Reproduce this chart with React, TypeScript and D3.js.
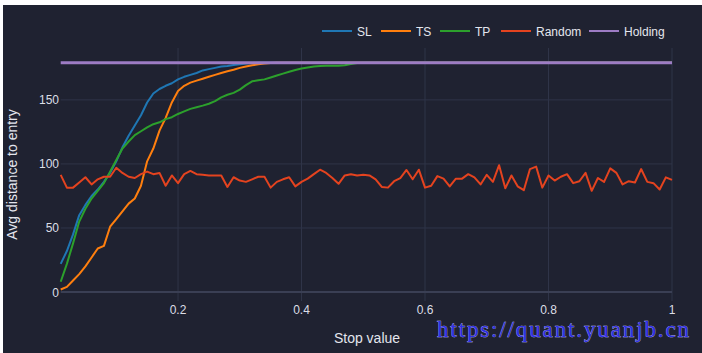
import React from "react";
import * as d3 from "d3";

// x: stop value 0.01 .. 1.00
const stopValues: number[] = d3.range(1, 101).map((i) => i / 100);

const slValues: number[] = [
  22, 32, 45, 60, 68, 75, 80, 86, 93, 102,
  113, 122, 130, 138, 148, 155, 158.5, 161, 163, 166,
  168, 169.5, 171, 173, 174, 175, 176, 176.5, 177.2, 177.8,
  178.3, 178.7, 179, 179, 179, 179, 179, 179, 179, 179,
  179, 179, 179, 179, 179, 179, 179, 179, 179, 179,
  179, 179, 179, 179, 179, 179, 179, 179, 179, 179,
  179, 179, 179, 179, 179, 179, 179, 179, 179, 179,
  179, 179, 179, 179, 179, 179, 179, 179, 179, 179,
  179, 179, 179, 179, 179, 179, 179, 179, 179, 179,
  179, 179, 179, 179, 179, 179, 179, 179, 179, 179,
];

const tsValues: number[] = [
  2, 4, 9, 14, 20, 27, 34, 36, 51, 57,
  63, 69, 73, 83, 102, 112, 126, 136, 148, 157,
  161, 163.5, 165, 166.5, 168, 169.5, 171, 172.3, 173.5, 175,
  176, 177, 177.8, 178.4, 178.8, 179, 179, 179, 179, 179,
  179, 179, 179, 179, 179, 179, 179, 179, 179, 179,
  179, 179, 179, 179, 179, 179, 179, 179, 179, 179,
  179, 179, 179, 179, 179, 179, 179, 179, 179, 179,
  179, 179, 179, 179, 179, 179, 179, 179, 179, 179,
  179, 179, 179, 179, 179, 179, 179, 179, 179, 179,
  179, 179, 179, 179, 179, 179, 179, 179, 179, 179,
];

const tpValues: number[] = [
  8, 22, 38, 55, 65, 73, 79, 85, 94, 103,
  112, 117.5, 122.5, 125.5, 128.5, 131, 132.5, 135, 136.5, 139,
  141, 143, 144.2, 145.5, 147, 149, 152, 154, 155.5, 158,
  161.5, 164.5, 165.3, 166, 167.5, 169, 170.5, 172, 173.3, 174.5,
  175.3, 176, 176.5, 176.6, 176.6, 176.7, 177, 178, 178.7, 179,
  179, 179, 179, 179, 179, 179, 179, 179, 179, 179,
  179, 179, 179, 179, 179, 179, 179, 179, 179, 179,
  179, 179, 179, 179, 179, 179, 179, 179, 179, 179,
  179, 179, 179, 179, 179, 179, 179, 179, 179, 179,
  179, 179, 179, 179, 179, 179, 179, 179, 179, 179,
];

const randomValues: number[] = [
  91.5, 81.5, 81.5, 85.5, 89.6, 84, 88, 90, 90, 97,
  93, 90, 89, 92, 94, 92, 93, 83, 91, 85,
  92, 94.5, 92, 91.5, 91, 91, 91, 82, 89.6, 87,
  86, 88, 90, 90, 81.5, 86, 88, 89.6, 82.5, 86,
  88.5, 92, 95.5, 93, 89, 84.5, 91, 92, 91, 91.5,
  91, 88, 82, 81.5, 86.5, 89, 95.3, 88, 95.5, 81.5,
  83, 90.5, 88.5, 82.5, 88.5, 88.5, 92, 89.5, 84, 91.5,
  86, 99, 81, 91, 82.5, 79.5, 96, 97.9, 81.5, 91,
  87, 90, 92, 85, 86.5, 93, 79, 89, 86, 96.5,
  93, 84, 86.5, 85.5, 96, 86, 85, 80, 89.5, 87.5,
];

const holdingValues: number[] = stopValues.map(() => 179);

const seriesNames = ["SL", "TS", "TP", "Random", "Holding"];
const seriesColors = ["#1f77b4", "#ff7f0e", "#2ca02c", "#e4431f", "#9d7cc4"];
const seriesData = [slValues, tsValues, tpValues, randomValues, holdingValues];

const xTicks = [0.2, 0.4, 0.6, 0.8, 1];
const xTickLabels = ["0.2", "0.4", "0.6", "0.8", "1"];
const yTicks = [0, 50, 100, 150];
const yTickLabels = ["0", "50", "100", "150"];

const W = 702;
const H = 353;
const plotLeft = 60.7;
const plotRight = 672;
const plotTop = 48;
const plotBottom = 301;

const FONT = "'Liberation Sans', Arial, sans-serif";

export default function App() {
  const x = d3.scaleLinear().domain([0.01, 1]).range([plotLeft, plotRight]);
  const y = d3.scaleLinear().domain([-7, 190.5]).range([plotBottom, plotTop]);

  const line = d3
    .line<number>()
    .x((_, i) => x(stopValues[i]))
    .y((d) => y(d));

  // legend layout (label widths estimated for 12px Arial-like font)
  const labelWidths = [16, 16, 18, 45, 41];
  const legendStarts: number[] = [];
  let cur = 317;
  labelWidths.forEach((w) => {
    legendStarts.push(cur);
    cur += 40 + w + 3;
  });

  return (
    <svg
      width={W}
      height={H}
      style={{ position: "absolute", left: 0, top: 0, display: "block" }}
    >
      <rect x={0} y={0} width={W} height={H} fill="#ffffff" />
      <rect x={3} y={5} width={W - 3} height={H - 5} fill="#1f2231" />

      {/* grid */}
      {xTicks.map((t) => (
        <line
          key={"gx" + t}
          x1={x(t)}
          x2={x(t)}
          y1={plotTop}
          y2={plotBottom}
          stroke="#2f3448"
          strokeWidth={1}
        />
      ))}
      {yTicks.map((t) => (
        <line
          key={"gy" + t}
          x1={plotLeft}
          x2={plotRight}
          y1={y(t)}
          y2={y(t)}
          stroke={t === 0 ? "#3a3f54" : "#2f3448"}
          strokeWidth={t === 0 ? 2 : 1}
        />
      ))}

      {/* series */}
      {seriesData.map((vals, si) => (
        <path
          key={seriesNames[si]}
          d={line(vals) || ""}
          fill="none"
          stroke={seriesColors[si]}
          strokeWidth={si === 4 ? 3 : 2}
          strokeLinejoin="round"
        />
      ))}

      {/* tick labels */}
      {xTicks.map((t, i) => (
        <text
          key={"tx" + t}
          x={x(t)}
          y={314}
          textAnchor="middle"
          fontFamily={FONT}
          fontSize={12}
          fill="#dcdee6"
        >
          {xTickLabels[i]}
        </text>
      ))}
      {yTicks.map((t, i) => (
        <text
          key={"ty" + t}
          x={59}
          y={y(t) + 4.5}
          textAnchor="end"
          fontFamily={FONT}
          fontSize={12}
          fill="#dcdee6"
        >
          {yTickLabels[i]}
        </text>
      ))}

      {/* axis titles */}
      <text
        x={367}
        y={343}
        textAnchor="middle"
        fontFamily={FONT}
        fontSize={14}
        fill="#e4e6ee"
      >
        Stop value
      </text>
      <text
        transform={`translate(17, ${(plotTop + plotBottom) / 2}) rotate(-90)`}
        textAnchor="middle"
        fontFamily={FONT}
        fontSize={14}
        fill="#e4e6ee"
      >
        Avg distance to entry
      </text>

      {/* legend */}
      {seriesNames.map((name, i) => (
        <g key={"lg" + name} transform={`translate(${legendStarts[i]}, 31)`}>
          <line
            x1={5}
            x2={35}
            y1={0}
            y2={0}
            stroke={seriesColors[i]}
            strokeWidth={2}
          />
          <text
            x={40}
            y={4.5}
            fontFamily={FONT}
            fontSize={12}
            fill="#e4e6ee"
          >
            {name}
          </text>
        </g>
      ))}

      {/* watermark */}
      <text
        x={437}
        y={337}
        fontFamily="'Liberation Serif', 'DejaVu Serif', serif"
        fontSize={23}
        textLength={252}
        lengthAdjust="spacing"
        fill="#2f2fe8"
        stroke="#d8d8ff"
        strokeWidth={0.5}
        paintOrder="stroke"
      >
        https://quant.yuanjb.cn
      </text>
    </svg>
  );
}
